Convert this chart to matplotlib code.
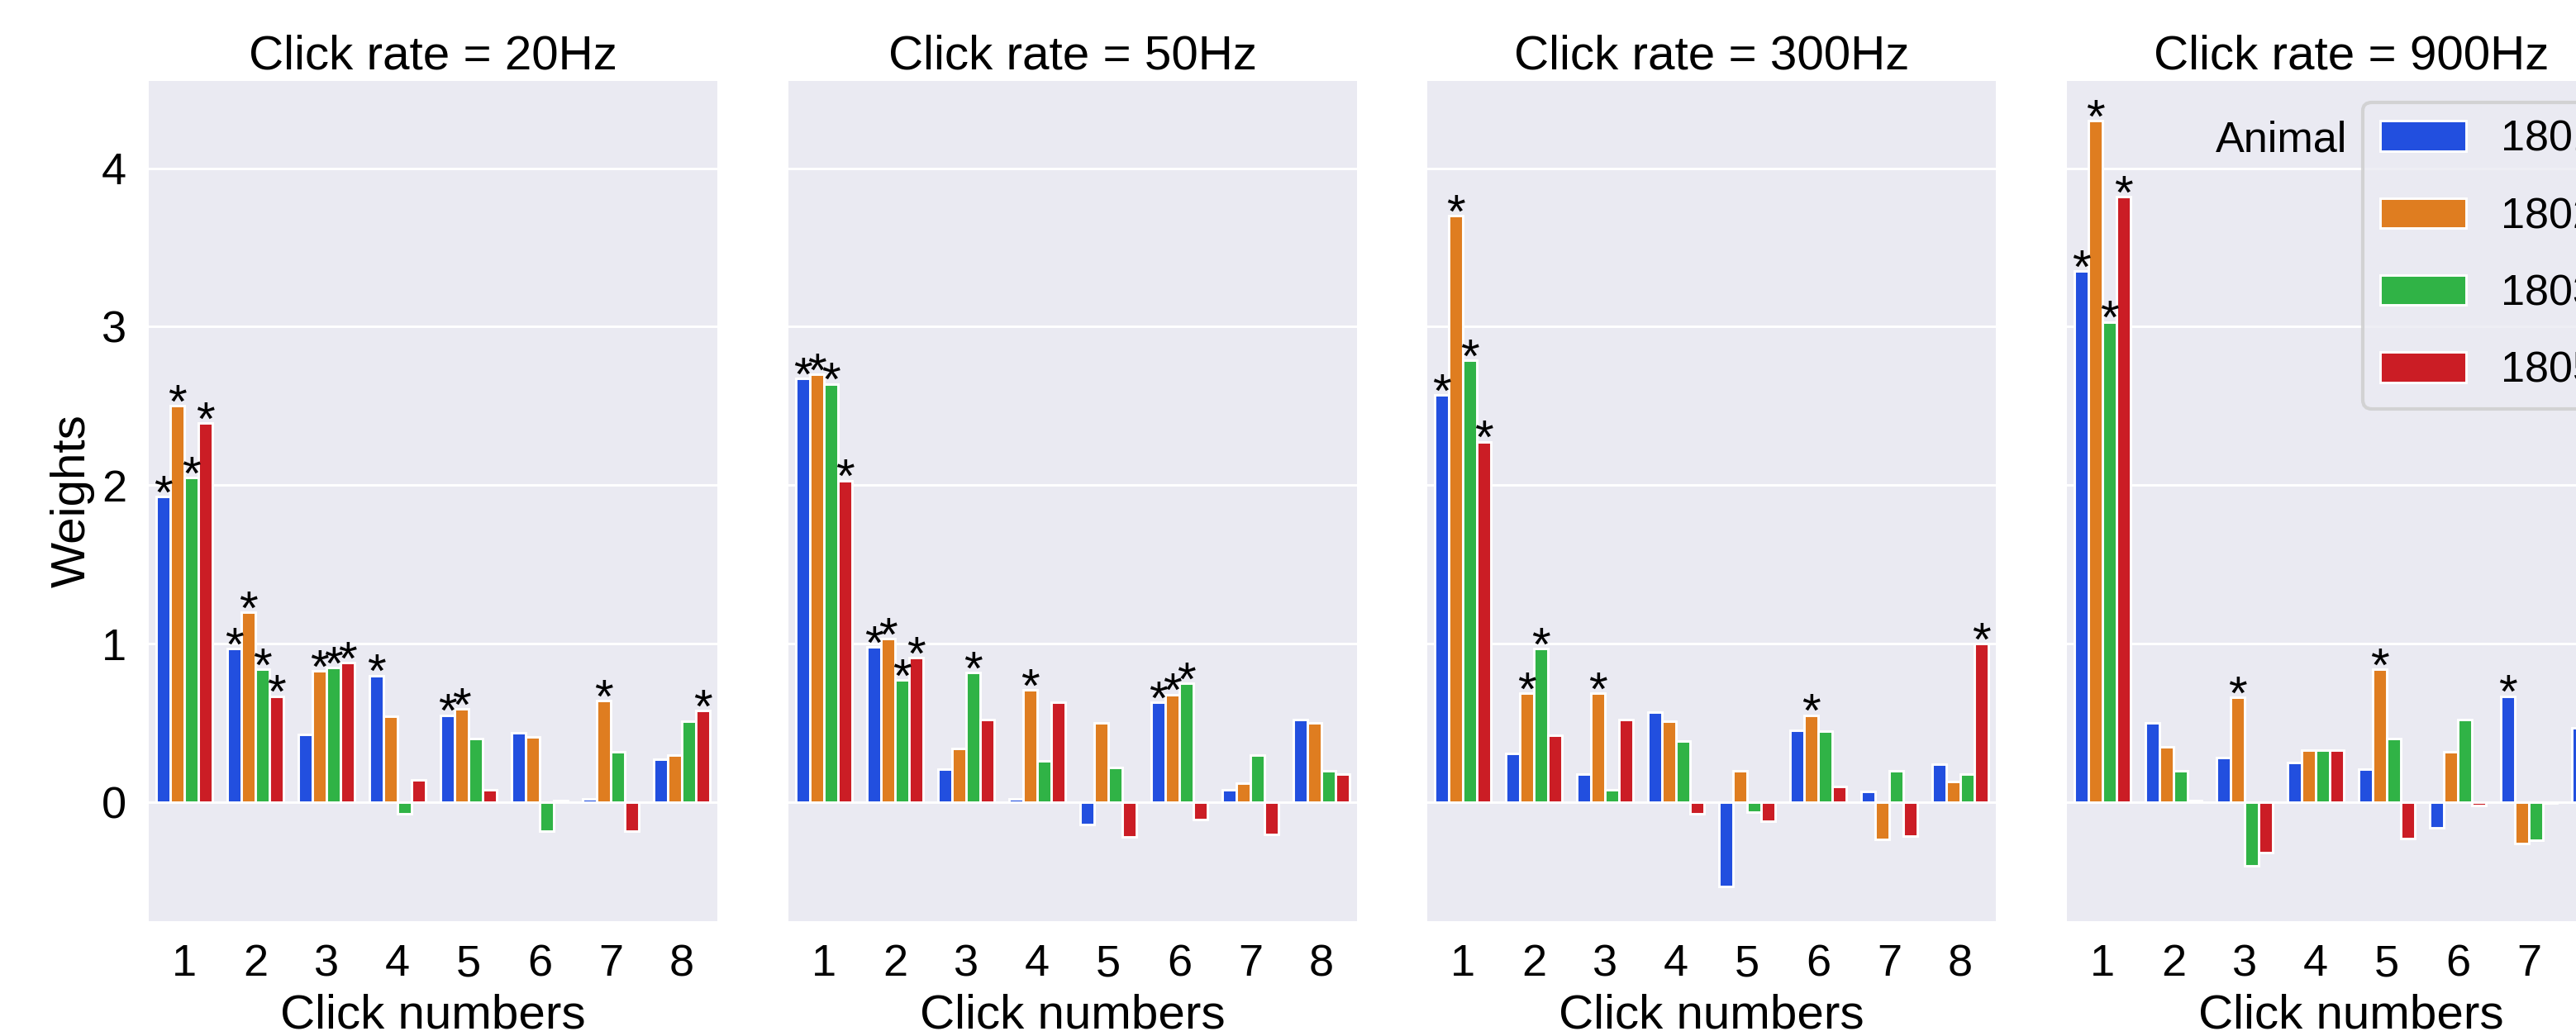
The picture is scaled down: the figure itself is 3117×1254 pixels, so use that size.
import colorsys
import numpy as np
import matplotlib
matplotlib.use("Agg")
import matplotlib.pyplot as plt
import matplotlib.colors as mcolors

plt.rcParams['font.family'] = ['Liberation Sans', 'DejaVu Sans']

rates = ['20Hz', '50Hz', '300Hz', '900Hz']
animals = ['1801', '1802', '1803', '1805']
clicks = ['1', '2', '3', '4', '5', '6', '7', '8']

# weights per animal (rows) and click number (columns)
weights_20hz = [
    [1.93, 0.97, 0.43, 0.80, 0.55, 0.44, 0.02, 0.27],
    [2.50, 1.20, 0.83, 0.54, 0.59, 0.41, 0.64, 0.30],
    [2.05, 0.84, 0.85, -0.075, 0.40, -0.18, 0.32, 0.51],
    [2.39, 0.67, 0.88, 0.14, 0.08, 0.01, -0.18, 0.58],
]
weights_50hz = [
    [2.675, 0.98, 0.21, 0.02, -0.14, 0.63, 0.08, 0.52],
    [2.70, 1.03, 0.34, 0.71, 0.50, 0.68, 0.12, 0.50],
    [2.64, 0.77, 0.82, 0.26, 0.22, 0.75, 0.30, 0.20],
    [2.03, 0.91, 0.52, 0.63, -0.22, -0.11, -0.205, 0.18],
]
weights_300hz = [
    [2.57, 0.31, 0.18, 0.57, -0.53, 0.455, 0.07, 0.24],
    [3.70, 0.69, 0.69, 0.51, 0.20, 0.55, -0.235, 0.13],
    [2.79, 0.97, 0.08, 0.385, -0.06, 0.45, 0.20, 0.18],
    [2.275, 0.42, 0.52, -0.075, -0.12, 0.10, -0.215, 1.00],
]
weights_900hz = [
    [3.35, 0.50, 0.28, 0.25, 0.21, -0.16, 0.67, 0.47],
    [4.30, 0.35, 0.66, 0.33, 0.84, 0.32, -0.26, 0.15],
    [3.03, 0.20, -0.40, 0.33, 0.40, 0.52, -0.24, 0.25],
    [3.82, 0.01, -0.32, 0.33, -0.23, -0.02, -0.005, 0.10],
]

# significance marks (1 = star above bar)
stars_20hz = [
    [1, 1, 0, 1, 1, 0, 0, 0],
    [1, 1, 1, 0, 1, 0, 1, 0],
    [1, 1, 1, 0, 0, 0, 0, 0],
    [1, 1, 1, 0, 0, 0, 0, 1],
]
stars_50hz = [
    [1, 1, 0, 0, 0, 1, 0, 0],
    [1, 1, 0, 1, 0, 1, 0, 0],
    [1, 1, 1, 0, 0, 1, 0, 0],
    [1, 1, 0, 0, 0, 0, 0, 0],
]
stars_300hz = [
    [1, 0, 0, 0, 0, 0, 0, 0],
    [1, 1, 1, 0, 0, 1, 0, 0],
    [1, 1, 0, 0, 0, 0, 0, 0],
    [1, 0, 0, 0, 0, 0, 0, 1],
]
stars_900hz = [
    [1, 0, 0, 0, 0, 0, 1, 0],
    [1, 0, 1, 0, 1, 0, 0, 0],
    [1, 0, 0, 0, 0, 0, 0, 0],
    [1, 0, 0, 0, 0, 0, 0, 0],
]

all_weights = [weights_20hz, weights_50hz, weights_300hz, weights_900hz]
all_stars = [stars_20hz, stars_50hz, stars_300hz, stars_900hz]

bright = ['#023eff', '#ff7c00', '#1ac938', '#e8000b']


def desaturate(color, prop=0.75):
    r, g, b = mcolors.to_rgb(color)
    h, l, s = colorsys.rgb_to_hls(r, g, b)
    return colorsys.hls_to_rgb(h, l, s * prop)


colors = [desaturate(c) for c in bright]

W, H = 3117, 1254
fig = plt.figure(figsize=(W / 300, H / 300), dpi=300)

ax_w = 688 / W
ax_b = (H - 1115) / H
ax_h = (1115 - 98) / H
lefts = [180, 954, 1727, 2501]

n = len(animals)
bw = 0.8 / n
x = np.arange(len(clicks))

first = None
for i, rate in enumerate(rates):
    ax = fig.add_axes([lefts[i] / W, ax_b, ax_w, ax_h], sharey=first)
    if first is None:
        first = ax
    ax.set_facecolor('#EAEAF2')
    ax.grid(axis='y', color='white', linewidth=0.7)
    ax.set_axisbelow(True)
    for s in ax.spines.values():
        s.set_visible(False)

    for j, animal in enumerate(animals):
        pos = x - 0.4 + bw * (j + 0.5)
        vals = all_weights[i][j]
        ax.bar(pos, vals, width=bw, color=colors[j], edgecolor='white',
               linewidth=0.7, label=animal)
        for k, v in enumerate(vals):
            if all_stars[i][j][k]:
                ax.annotate('*', (pos[k], v), xytext=(0, -3.5),
                            textcoords='offset points', ha='center',
                            va='baseline', fontsize=14)

    ax.set_xlim(-0.5, len(clicks) - 0.5)
    ax.set_ylim(-0.75, 4.55)
    ax.set_xticks(x, clicks)
    ax.set_yticks([0, 1, 2, 3, 4])
    ax.tick_params(length=0, labelsize=13, pad=6.5)
    ax.set_title(f'Click rate = {rate}', fontsize=14, pad=3.5)
    ax.set_xlabel('Click numbers', fontsize=14, labelpad=2.5)
    if i == 0:
        ax.set_ylabel('Weights', fontsize=14, labelpad=2)
    else:
        ax.tick_params(labelleft=False)

    if i == len(rates) - 1:
        ax.legend(loc='upper right', fontsize=12.5, facecolor='#EAEAF2',
                  edgecolor='0.8', framealpha=0.8, labelspacing=0.85,
                  handlelength=2.0, handleheight=0.7)
        ax.text(0.493, 0.929, 'Animal', transform=ax.transAxes,
                ha='right', va='center', fontsize=12.5)

fig.savefig('out.png', dpi=300)
